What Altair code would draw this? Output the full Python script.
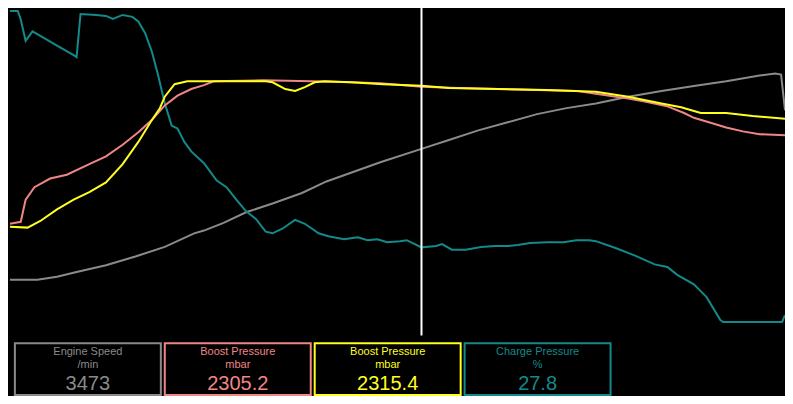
import altair as alt
import pandas as pd

# ---------------- data ----------------
# time in seconds
RPM_T = [0, 0.56, 0.96, 1.36, 1.96, 2.56, 3.16, 3.76, 3.96, 4.36, 4.82, 5.36, 5.96, 6.46,
         6.96, 7.56, 8.40, 8.96, 9.56, 10.16, 10.76, 11.36, 11.96, 12.62, 13.30, 13.96,
         14.62, 15.30, 15.62, 15.74, 15.82]
RPM = [1076, 1076, 1129, 1218, 1341, 1500, 1676, 1924, 1976, 2118, 2312, 2471, 2665, 2876,
       3035, 3229, 3473, 3635, 3812, 3960, 4110, 4220, 4306, 4429, 4535, 4624,
       4712, 4818, 4853, 4835, 4182]

BOOST1_T = [0, 0.22, 0.32, 0.50, 0.82, 1.16, 1.62, 1.96, 2.30, 2.62, 2.90, 3.16, 3.42, 3.70,
            3.96, 4.16, 5.16, 6.16, 6.96, 7.56, 8.40, 9.16, 9.96, 10.76, 11.56, 11.96,
            12.62, 12.96, 13.42, 13.76, 13.96, 14.30, 14.62, 14.96, 15.30, 15.82]
BOOST1 = [1050, 1068, 1271, 1385, 1465, 1500, 1597, 1668, 1774, 1888, 2003, 2135, 2224, 2285,
          2321, 2356, 2365, 2356, 2347, 2338, 2305.2, 2294, 2285, 2276, 2268, 2241,
          2197, 2171, 2126, 2065, 2021, 1976, 1932, 1897, 1871, 1862]

BOOST2_T = [0, 0.36, 0.62, 0.96, 1.30, 1.62, 1.96, 2.30, 2.62, 2.90, 3.06, 3.16, 3.36, 3.62,
            3.96, 5.22, 5.36, 5.62, 5.82, 6.02, 6.22, 6.42, 6.96, 7.62, 8.40, 8.96, 9.96,
            10.96, 11.96, 12.62, 13.30, 13.70, 14.10, 14.62, 15.16, 15.82]
BOOST2 = [1024, 1015, 1076, 1182, 1271, 1341, 1429, 1597, 1800, 2003, 2109, 2215, 2329, 2356,
          2356, 2356, 2347, 2285, 2268, 2303, 2347, 2356, 2347, 2329, 2315.4, 2294, 2285,
          2276, 2259, 2215, 2153, 2118, 2065, 2065, 2038, 2012]

CHARGE_T = [0, 0.16, 0.22, 0.32, 0.46, 0.62, 0.96, 1.30, 1.36, 1.44, 1.76, 1.96, 2.10, 2.30,
            2.50, 2.62, 2.76, 2.90, 3.02, 3.16, 3.30, 3.42, 3.56, 3.70, 3.96, 4.22, 4.42,
            4.62, 4.82, 5.02, 5.22, 5.36, 5.56, 5.82, 6.02, 6.30, 6.50, 6.82, 7.10, 7.30,
            7.50, 7.70, 7.96, 8.10, 8.40, 8.70, 8.82, 9.02, 9.30, 9.62, 9.90, 10.16, 10.36,
            10.62, 10.96, 11.30, 11.56, 11.82, 11.96, 12.36, 12.76, 13.16, 13.42, 13.62,
            13.96, 14.22, 14.50, 14.56, 15.76, 15.82]
CHARGE = [100, 100, 97.4, 90.9, 93.8, 92.4, 89.4, 86.5, 85.9, 99.1, 98.8, 98.5, 97.6, 98.8,
          98.2, 96.8, 93.2, 87.4, 80.6, 71.8, 65.0, 64.1, 60.0, 57.1, 53.5, 48.2, 46.2,
          42.4, 38.8, 36.5, 32.6, 32.1, 33.5, 36.2, 35.0, 32.1, 31.2, 30.3, 30.9, 30.0,
          30.3, 29.4, 29.7, 30.0, 27.8, 28.2, 28.8, 27.1, 27.1, 27.9, 28.2, 28.2, 28.5,
          29.1, 29.4, 29.4, 30.0, 30.0, 29.7, 27.6, 25.3, 22.6, 21.8, 19.4,
          16.5, 12.6, 5.6, 5.0, 5.0, 7.1]

CURSOR_T = 8.40
T_MAX = 15.82

LABELS = ["Engine Speed", "Boost Pressure", "Boost Pressure", "Charge Pressure"]
UNITS = ["/min", "mbar", "mbar", "%"]
VALUES = ["3473", "2305.2", "2315.4", "27.8"]
COLORS = ["#8a8a8a", "#f08585", "#ffff1e", "#14898a"]

# ---------------- chart ----------------
W, H = 777, 388          # fits the 793x404 window together with the 8px page margin
SX, SY = W / 793, H / 404
FONT = "Liberation Sans"

x_enc = alt.X("t:Q", scale=alt.Scale(domain=[0, T_MAX], range=[2 * SX, W], nice=False), axis=None)
Y_RANGE = [344 * SY, 3]


def line(ts, vs, dom, color):
    df = pd.DataFrame({"t": ts, "v": vs})
    return alt.Chart(df).mark_line(color=color, strokeWidth=2).encode(
        x=x_enc,
        y=alt.Y("v:Q", scale=alt.Scale(domain=dom, range=Y_RANGE, nice=False, zero=False), axis=None),
    )


layers = [
    line(RPM_T, RPM, [0, 6000], COLORS[0]),
    line(CHARGE_T, CHARGE, [0, 100], COLORS[3]),
    line(BOOST1_T, BOOST1, [0, 3000], COLORS[1]),
    line(BOOST2_T, BOOST2, [0, 3000], COLORS[2]),
]

cursor = alt.Chart(pd.DataFrame({"t": [CURSOR_T]})).mark_rule(color="white", strokeWidth=2).encode(
    x=alt.X("t:Q", axis=None), y=alt.value(0), y2=alt.value(341 * SY)
)

boxes = []
for i in range(4):
    left = (6 + 153 * i) * SX
    bw = 151 * SX
    df = pd.DataFrame({"label": [LABELS[i]], "unit": [UNITS[i]], "value": [VALUES[i]]})
    base = alt.Chart(df)
    rect = base.mark_rect(fill="black", stroke=COLORS[i], strokeWidth=2).encode(
        x=alt.value(left + 1), x2=alt.value(left + bw - 1),
        y=alt.value(348 * SY + 1), y2=alt.value(H - 1)
    )
    cx = left + bw / 2
    t1 = base.mark_text(font=FONT, fontSize=11, color=COLORS[i], baseline="middle", align="center").encode(
        x=alt.value(cx), y=alt.value(358 * SY), text="label:N")
    t2 = base.mark_text(font=FONT, fontSize=11, color=COLORS[i], baseline="middle", align="center").encode(
        x=alt.value(cx), y=alt.value(372 * SY), text="unit:N")
    t3 = base.mark_text(font=FONT, fontSize=20, color=COLORS[i], baseline="middle", align="center").encode(
        x=alt.value(cx), y=alt.value(391 * SY), text="value:N")
    boxes += [rect, t1, t2, t3]

chart = alt.layer(*layers, cursor, *boxes).resolve_scale(y="independent").properties(
    width=W, height=H, padding=0, autosize=alt.AutoSizeParams(type="none"), background="black"
).configure_view(stroke=None)

chart.save("out.html", embed_options={"renderer": "svg", "actions": False})
